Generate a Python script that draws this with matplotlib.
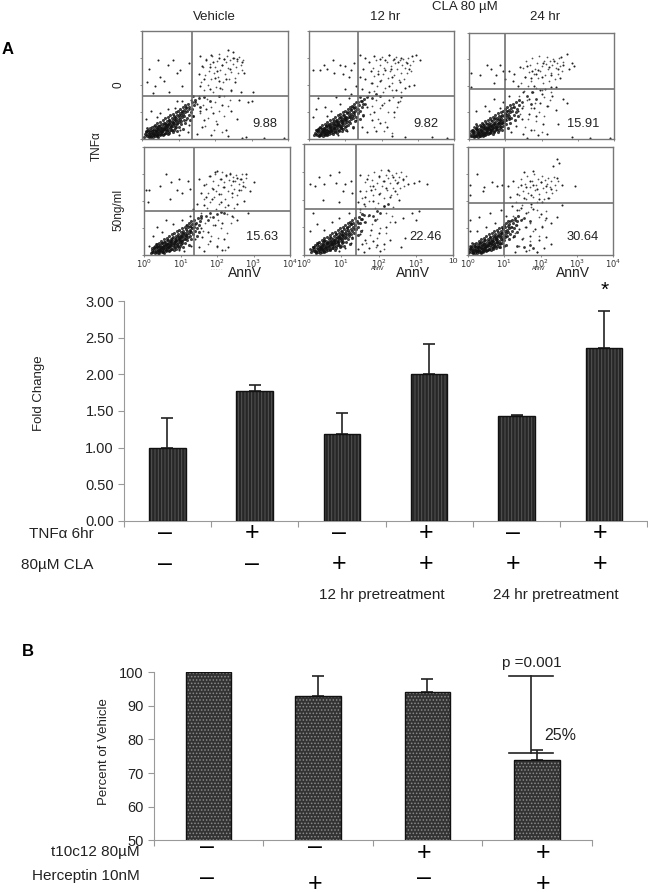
import matplotlib
matplotlib.use('Agg')
import matplotlib.pyplot as plt
import numpy as np

plt.rcParams['font.family'] = ['Liberation Sans', 'DejaVu Sans']
plt.rcParams['hatch.linewidth'] = 0.7

W, H = 648, 892

# flow panels, values in decades of the 10^0..10^4 axes
core_1 = [(.12,.15),(.2,.3),(.25,.12),(.3,.35),(.35,.22),(.4,.4),(.42,.15),(.48,.3),(.5,.5),(.55,.25),(.6,.42),(.62,.6),(.68,.35),(.7,.55),(.75,.7),(.8,.48),(.85,.62),(.9,.8),(.95,.55),(1.0,.9),(.15,.4),(.28,.22),(.38,.3),(.18,.22),(.33,.48),(.45,.38),(.52,.18),(.58,.33),(.1,.28),(.65,.5),(1.1,1.0),(1.2,1.2),(1.3,1.1),(1.45,1.35),(1.55,1.5),(1.7,1.55),(1.85,1.4),(1.6,1.2),(2.1,1.6),(1.4,1.6)]
spread_1 = [(.2,2.6),(.45,2.9),(.7,2.75),(.5,2.3),(.95,2.45),(.85,2.9),(1.05,2.55),(.15,2.1),(.35,1.95),(.6,2.15),(1.1,1.95),(1.28,2.8),(.3,1.7),(.75,1.75),(1.6,3.05),(1.75,2.9),(1.9,3.1),(2.1,3.0),(2.35,3.3),(2.5,3.0),(2.6,2.95),(2.75,2.85),(2.2,2.75),(1.85,2.65),(2.05,2.5),(2.4,2.6),(1.55,2.4),(1.7,2.2),(2.0,2.25),(2.3,2.2),(2.55,2.1),(2.8,2.45),(1.6,1.95),(1.85,1.85),(2.15,1.9),(2.45,1.8),(2.7,1.75),(3.05,1.75),(1.95,2.85),(2.25,2.95),(2.5,3.2),(1.65,2.7),(2.1,2.15),(1.5,1.3),(1.75,1.1),(1.95,.95),(2.2,1.25),(2.45,1.05),(2.65,1.45),(2.9,1.35),(3.0,1.4),(1.7,.7),(1.65,.45),(2.05,.55),(2.3,.35),(2.6,.75),(1.5,.2),(1.9,.15),(2.35,.1),(2.85,.08),(1.05,.35),(1.2,.7),(1.3,.5),(.9,1.15),(.7,1.1),(.5,.95),(.25,1.05),(.1,.75),(1.1,1.4),(.95,1.4),(.4,.8),(1.25,.25),(1.4,.85),(1.6,1.05),(1.35,1.45),(.6,.2),(1.0,.15),(2.75,.05),(3.35,.05),(3.9,.04)]

core_2 = [(.18,.2),(.25,.35),(.3,.15),(.35,.28),(.42,.42),(.45,.2),(.5,.33),(.55,.5),(.6,.3),(.65,.62),(.7,.42),(.75,.7),(.8,.52),(.85,.82),(.9,.6),(.95,.9),(1.0,.7),(1.05,.98),(1.1,.8),(1.15,1.1),(.22,.28),(.28,.42),(.38,.35),(.48,.48),(.58,.42),(.68,.55),(.78,.62),(.88,.72),(.98,.82),(1.2,1.2),(1.25,.95),(1.3,1.35),(1.35,1.1),(1.45,1.4),(1.55,1.3),(1.6,1.55),(1.75,1.5),(1.85,1.65),(1.95,1.6),(1.4,1.55)]
spread_2 = [(.1,2.55),(.3,2.55),(.5,2.6),(.7,2.45),(.85,2.75),(1.0,2.7),(1.15,2.55),(1.25,2.8),(.4,2.75),(.95,2.4),(1.1,2.3),(.65,2.9),(1.4,3.1),(1.55,3.0),(1.65,2.85),(1.8,3.05),(1.95,2.95),(2.1,2.9),(2.2,3.1),(2.35,2.95),(2.45,2.85),(2.55,3.0),(2.7,2.8),(2.85,3.05),(2.95,3.1),(2.75,2.6),(1.5,2.6),(1.7,2.5),(1.9,2.4),(2.1,2.55),(2.3,2.3),(2.5,2.1),(2.65,1.9),(1.55,2.2),(1.75,2.05),(1.95,2.15),(2.2,1.95),(2.4,1.8),(1.45,1.85),(1.65,1.75),(2.75,1.95),(2.9,2.0),(1.4,2.3),(2.25,2.6),(1.6,1.2),(1.8,1.0),(2.0,1.25),(2.2,1.45),(2.45,1.35),(2.35,1.0),(1.5,.85),(1.75,.7),(1.95,.6),(2.15,.45),(1.45,.45),(1.6,.25),(1.85,.3),(2.3,.12),(.2,1.1),(.45,1.2),(.25,1.5),(.6,1.05),(.85,1.3),(1.1,1.5),(.75,1.55),(.1,.8),(.5,.85),(1.2,.4),(1.05,.3),(1.3,.7),(.8,.15),(2.65,.08),(3.4,.06),(3.8,.05),(1.15,1.65),(1.3,1.95),(1.0,1.85),(.9,.4),(2.55,1.55),(3.05,2.9)]

core_3 = [(.05,.12),(.12,.25),(.18,.1),(.22,.38),(.28,.2),(.32,.5),(.35,.3),(.4,.15),(.42,.42),(.48,.6),(.5,.28),(.55,.48),(.6,.7),(.62,.35),(.68,.55),(.72,.78),(.78,.45),(.82,.65),(.88,.85),(.92,.6),(.08,.35),(.15,.45),(.25,.28),(.3,.12),(.38,.55),(.45,.22),(.52,.4),(.58,.25),(.65,.42),(.75,.35),(.85,.5),(.98,.72),(1.0,.95),(.1,.18),(.2,.55),(1.45,1.4),(1.6,1.6),(1.75,1.75),(1.85,1.5),(1.7,1.3)]
spread_3 = [(.5,2.8),(.6,2.65),(.85,2.8),(.95,2.55),(.75,2.4),(1.0,2.25),(.3,2.4),(.05,2.5),(.7,2.1),(.05,1.95),(1.1,2.55),(1.25,2.45),(1.4,2.7),(1.6,2.75),(1.75,2.55),(1.9,2.6),(2.05,2.85),(2.2,2.7),(2.35,2.95),(2.45,2.65),(2.55,3.1),(2.6,2.8),(2.7,3.2),(2.75,2.65),(2.85,2.85),(1.55,2.35),(1.7,2.3),(1.85,2.45),(2.0,2.35),(2.25,2.4),(1.2,2.2),(1.35,2.0),(1.8,2.0),(1.95,1.85),(2.1,1.9),(2.25,1.95),(2.4,1.95),(1.5,1.75),(1.65,1.5),(1.95,1.35),(2.15,1.25),(2.4,1.1),(2.6,1.5),(2.3,1.6),(1.2,1.2),(1.35,1.05),(1.45,.75),(1.65,.95),(1.85,.85),(2.05,.55),(1.3,.5),(1.5,.2),(1.7,.35),(1.9,.15),(2.15,.2),(2.45,.55),(1.15,.25),(1.1,.8),(.95,1.4),(.7,1.5),(.45,1.25),(.2,1.05),(.55,1.05),(.85,1.15),(1.05,1.05),(2.7,1.35),(1.6,.05),(2.85,.06),(3.35,.05),(3.9,.04),(2.0,1.7),(2.5,2.3),(1.45,1.15),(1.8,1.15),(1.1,1.6),(2.9,2.75)]

core_4 = [(.22,.12),(.28,.25),(.32,.4),(.38,.18),(.42,.32),(.48,.45),(.52,.22),(.58,.38),(.62,.55),(.68,.3),(.72,.48),(.78,.62),(.82,.4),(.88,.55),(.92,.72),(.98,.5),(1.02,.65),(1.08,.82),(1.12,.6),(1.18,.78),(.35,.28),(.45,.25),(.55,.3),(.65,.42),(.75,.5),(.85,.48),(.95,.62),(1.05,.55),(1.15,.7),(1.25,.9),(1.3,1.05),(1.4,1.15),(1.55,1.35),(1.7,1.45),(1.8,1.55),(1.9,1.42),(2.0,1.5),(2.1,1.6),(1.75,1.3),(2.2,1.55)]
spread_4 = [(.05,2.4),(.15,2.4),(.45,2.55),(.75,2.7),(.95,2.8),(1.25,2.45),(1.05,2.3),(.7,2.05),(.1,1.95),(.9,2.4),(1.2,2.75),(.6,3.0),(1.5,2.8),(1.65,2.6),(1.8,2.9),(1.95,3.05),(2.1,2.8),(2.25,2.95),(2.35,3.0),(2.45,2.75),(2.55,2.85),(2.65,2.8),(2.8,3.0),(2.0,3.1),(1.55,2.3),(1.7,2.15),(1.9,2.45),(2.05,2.25),(2.2,2.5),(2.4,2.3),(2.6,2.4),(1.45,1.9),(1.65,1.85),(1.85,2.05),(2.1,1.95),(2.3,1.85),(2.55,1.9),(2.75,2.0),(2.9,2.35),(2.7,2.55),(1.55,1.0),(1.75,.85),(1.95,1.1),(2.15,1.2),(2.4,1.45),(2.55,1.3),(1.6,.65),(1.8,.5),(2.0,.35),(2.2,.6),(1.5,.3),(1.65,.15),(2.15,.2),(2.3,.3),(.25,.7),(.5,.85),(.8,1.15),(1.05,1.3),(1.25,1.45),(.6,1.3),(.35,1.05),(.15,.35),(1.3,.35),(1.4,.6),(1.1,.15),(.95,.2),(1.35,1.7),(3.0,2.7),(2.85,1.55),(1.15,1.1)]

core_5 = [(.15,.2),(.25,.3),(.3,.15),(.38,.42),(.45,.25),(.5,.4),(.55,.55),(.6,.3),(.65,.48),(.7,.65),(.75,.38),(.8,.55),(.85,.75),(.9,.5),(.95,.68),(1.0,.88),(1.05,.6),(1.1,.8),(1.15,1.0),(1.2,.75),(.42,.3),(.52,.22),(.62,.42),(.72,.5),(.82,.42),(.92,.6),(1.02,.72),(1.25,1.1),(1.35,.95),(1.45,1.15),(1.55,1.3),(1.65,1.2),(1.75,1.45),(1.85,1.4),(1.95,1.6),(2.05,1.5),(2.15,1.75),(2.25,1.85),(1.6,1.45),(1.9,1.25)]
spread_5 = [(.15,2.55),(.3,2.5),(.55,2.55),(.7,2.9),(.85,2.6),(.95,3.0),(1.1,2.55),(1.25,2.65),(.4,2.8),(1.05,2.3),(.5,2.0),(.95,1.9),(1.3,2.25),(1.5,2.9),(1.7,2.75),(1.85,2.5),(2.0,2.85),(2.15,2.65),(2.25,3.05),(2.4,2.8),(2.5,2.6),(2.65,2.75),(2.8,2.55),(2.95,2.6),(3.1,2.65),(3.3,2.55),(1.5,2.3),(1.65,2.1),(1.8,2.35),(2.0,2.2),(2.2,2.4),(2.45,2.3),(1.45,1.9),(1.6,1.85),(1.85,1.95),(2.3,2.1),(2.55,2.0),(1.8,.9),(2.0,.8),(2.2,1.0),(2.45,1.2),(2.65,1.35),(2.9,1.5),(3.1,1.6),(1.5,.75),(1.55,.4),(1.65,.55),(1.75,.25),(1.85,.5),(1.95,.35),(2.05,.15),(2.15,.4),(1.6,.12),(1.45,.2),(2.3,.55),(2.6,.3),(.15,.85),(.35,1.1),(.55,.9),(.75,1.2),(.95,1.35),(.25,1.5),(1.2,1.5),(1.25,.45),(1.1,.25),(.95,.15),(3.0,1.25),(2.7,.6),(1.3,.65),(1.5,1.65)]

core_6 = [(.04,.1),(.1,.22),(.15,.08),(.2,.32),(.25,.15),(.3,.45),(.35,.25),(.4,.12),(.45,.55),(.5,.32),(.55,.18),(.6,.65),(.65,.4),(.7,.25),(.75,.72),(.8,.48),(.85,.3),(.9,.8),(.95,.55),(.98,.35),(.06,.35),(.12,.45),(.18,.18),(.28,.28),(.38,.38),(.48,.22),(.58,.45),(.68,.52),(.78,.62),(.88,.42),(.05,.22),(1.15,1.25),(1.3,1.3),(1.45,1.3),(1.55,1.35),(1.7,1.25),(1.35,.35),(1.55,.3),(1.7,.38),(1.8,.25)]
spread_6 = [(.25,3.0),(.45,2.5),(.05,2.6),(.65,2.7),(.8,2.55),(.95,2.6),(.05,2.2),(.4,2.35),(1.1,2.55),(1.25,2.75),(1.45,2.6),(1.6,2.5),(1.7,2.75),(1.8,2.6),(1.9,2.45),(2.0,2.7),(2.15,2.55),(2.3,2.45),(2.45,2.85),(2.6,2.6),(1.55,3.05),(1.8,3.1),(2.35,3.3),(2.45,3.55),(2.5,3.4),(1.15,2.15),(1.35,2.25),(1.55,2.1),(1.75,2.2),(1.95,2.05),(2.2,2.1),(2.05,1.95),(1.2,1.8),(1.35,1.65),(1.6,1.55),(1.8,1.7),(1.75,1.9),(2.0,1.5),(2.15,1.35),(2.3,1.2),(2.45,1.4),(1.2,1.05),(1.4,.95),(1.6,1.05),(1.85,.95),(2.05,1.05),(1.25,.65),(1.5,.6),(1.7,.7),(1.95,.55),(2.15,.65),(2.3,.4),(1.3,.12),(1.6,.15),(1.9,.12),(2.1,.25),(.25,.9),(.5,1.05),(.75,1.2),(.95,1.0),(.3,1.4),(.6,1.55),(.9,1.65),(.05,1.3),(.05,.9),(1.05,.7),(1.05,1.45),(2.95,2.55),(2.6,1.85),(1.45,1.75)]

# the dark wedge at the lower left, about the same in every panel
wedge = [(.06,.08),(.09,.17),(.11,.27),(.14,.11),(.16,.2),(.17,.33),(.19,.06),(.21,.14),(.22,.25),(.23,.4),(.25,.09),(.26,.18),(.27,.31),(.28,.46),(.3,.07),(.31,.23),(.32,.13),(.33,.37),(.34,.28),(.35,.52),(.36,.1),(.37,.2),(.38,.44),(.39,.33),(.4,.16),(.41,.26),(.42,.58),(.43,.08),(.44,.38),(.45,.22),(.46,.49),(.47,.3),(.48,.13),(.49,.42),(.5,.64),(.51,.25),(.52,.34),(.53,.17),(.54,.54),(.55,.45),(.56,.28),(.57,.7),(.58,.38),(.59,.2),(.6,.5),(.61,.6),(.62,.32),(.63,.43),(.64,.76),(.65,.24),(.66,.56),(.67,.36),(.68,.66),(.69,.47),(.7,.17),(.71,.82),(.72,.4),(.73,.58),(.74,.29),(.75,.72),(.76,.5),(.77,.63),(.78,.88),(.79,.35),(.8,.44),(.81,.78),(.82,.55),(.83,.68),(.84,.26),(.85,.94),(.86,.48),(.87,.6),(.88,.73),(.89,.84),(.9,.4),(.91,.53),(.92,1.0),(.93,.66),(.94,.78),(.95,.3),(.96,.9),(.97,.58),(.98,.71),(.99,1.05),(1.0,.46),(1.01,.83),(1.02,.62),(1.03,.96),(1.04,.75),(1.05,1.12),(1.06,.54),(1.07,.88),(1.08,.68),(1.09,1.02),(1.1,.8),(1.11,1.18),(1.12,.38),(1.13,.93),(1.14,.72),(1.15,1.08),(1.16,.85),(1.17,1.25),(1.18,.6),(1.19,.98),(1.2,1.14),(1.22,.78),(1.24,1.05),(1.26,1.3),(1.28,.9),(1.3,1.2),(1.32,.7),(1.34,1.0),(1.36,1.36),(1.38,1.12),(1.4,.85),(1.42,1.26),(1.44,1.44),(.15,.28),(.2,.1),(.24,.34),(.29,.16),(.33,.2),(.37,.3),(.41,.12),(.43,.47),(.47,.2),(.51,.4),(.54,.3),(.57,.15),(.6,.36),(.63,.22),(.66,.46),(.69,.3),(.72,.52),(.75,.24),(.78,.42),(.81,.34),(.84,.6),(.87,.32),(.9,.7),(.93,.44)]
wedge_dx = [0.0, 0.08, -0.05, 0.12, 0.12, -0.06]
wedge_dy = [0.0, 0.05, 0.02, 0.0, 0.02, 0.0]

# upper right cloud, shifted per panel
cloud = [(1.62,2.05),(1.68,2.62),(1.72,2.3),(1.76,2.9),(1.8,1.95),(1.83,2.48),(1.87,2.72),(1.9,2.15),(1.93,3.0),(1.96,2.38),(2.0,2.6),(2.03,1.88),(2.06,2.82),(2.09,2.25),(2.12,3.08),(2.15,2.5),(2.18,2.68),(2.21,2.05),(2.24,2.9),(2.27,2.35),(2.3,2.78),(2.33,3.02),(2.36,2.58),(2.39,2.15),(2.42,2.88),(2.45,2.42),(2.48,2.72),(2.51,2.95),(2.54,2.2),(2.57,2.62),(2.6,2.82),(2.63,2.4),(2.66,2.98),(2.7,2.7),(2.74,2.5),(2.78,2.85),(1.7,1.75),(1.95,1.7),(2.2,1.78),(2.45,1.72),(1.55,1.55),(1.78,1.42),(2.0,1.3),(2.25,1.52),(2.42,1.4),(1.66,1.2),(1.88,1.12),(2.1,.98),(2.35,1.18),(1.6,.9),(1.82,.72),(2.02,.62),(2.26,.8),(1.72,.42),(1.98,.28),(2.2,.2)]
cloud_dx = [0.0, 0.08, -0.18, 0.02, -0.05, -0.3]
cloud_dy = [0.05, 0.02, 0.05, 0.0, 0.0, -0.1]

flow_core = [core_1, core_2, core_3, core_4, core_5, core_6]
flow_spread = [spread_1, spread_2, spread_3, spread_4, spread_5, spread_6]
gate_x = [1.38, 1.36, 1.0, 1.36, 1.39, 1.0]
gate_y = [1.6, 1.6, 1.89, 1.64, 1.65, 1.92]
flow_pct = ['9.88', '9.82', '15.91', '15.63', '22.46', '30.64']

# fold change bars
a_vals = [1.00, 1.77, 1.19, 2.00, 1.43, 2.36]
a_err = [0.41, 0.08, 0.28, 0.41, 0.01, 0.51]
a_ticks = [0, 0.5, 1.0, 1.5, 2.0, 2.5, 3.0]
a_tnf = ['-', '+', '-', '+', '-', '+']
a_cla = ['-', '-', '+', '+', '+', '+']

# percent of vehicle bars
b_vals = [100, 93, 94, 74]
b_err = [0.2, 6, 4, 3]
b_ticks = [50, 60, 70, 80, 90, 100]
b_t10 = ['-', '-', '+', '+']
b_her = ['-', '+', '-', '+']

fig = plt.figure(figsize=(W / 100, H / 100), dpi=100)


def add_ax(x0, y0, x1, y1):
    # pixel box, y measured from the top
    return fig.add_axes([x0 / W, 1 - y1 / H, (x1 - x0) / W, (y1 - y0) / H])


def txt(x, y, s, size=9, ha='center', rot=0, color='#222222', weight='normal'):
    fig.text(x / W, 1 - y / H, s, fontsize=size, ha=ha, va='center', rotation=rot,
             color=color, fontweight=weight)


def sign(x, y, s):
    # long dash for minus, thick cross for plus
    txt(x, y, '\u2013' if s == '-' else '+', size=18, color='black')


boxes = [(142, 30.7, 288, 139), (309, 30.7, 454, 139), (469, 32.7, 614, 139),
         (144, 146.7, 290, 255), (304, 144, 453, 255), (468, 146.7, 613, 255)]
pct_pos = [(265, 124), (426, 124), (583, 124), (262, 237), (425, 237), (583, 237)]

for i, box in enumerate(boxes):
    ax = add_ax(*box)
    cx, cy = zip(*flow_core[i])
    sx, sy = zip(*flow_spread[i])
    wx, wy = np.array(wedge).T
    ux, uy = np.array(cloud).T
    ax.scatter(ux + cloud_dx[i], uy + cloud_dy[i], s=1.6, c='#555555', linewidths=0)
    ax.scatter(sx, sy, s=2.2, c='#222222', linewidths=0)
    ax.scatter(wx + wedge_dx[i], wy + wedge_dy[i], s=5, c='#111111', alpha=0.8, linewidths=0)
    ax.scatter(cx, cy, s=4, c='#111111', alpha=0.85, linewidths=0)
    ax.axvline(gate_x[i], color='#666666', lw=1.1)
    ax.axhline(gate_y[i], color='#666666', lw=1.1)
    ax.set_xlim(0, 4)
    ax.set_ylim(0, 4)
    for s in ax.spines.values():
        s.set_color('#777777')
        s.set_linewidth(1.0)
    ax.set_yticks([0, 1, 2, 3, 4])
    ax.set_yticklabels([])
    ax.tick_params(axis='y', length=1.5, width=0.6, color='#777777')
    ax.set_xticks([0, 1, 2, 3, 4])
    if i >= 3:
        last = '10' if i == 4 else '$10^{4}$'
        ax.set_xticklabels(['$10^{0}$', '$10^{1}$', '$10^{2}$', '$10^{3}$', last],
                           fontsize=6, color='#333333')
    else:
        ax.set_xticklabels([])
    ax.tick_params(axis='x', length=1.5, width=0.6, color='#777777', pad=0.5)
    txt(pct_pos[i][0], pct_pos[i][1], flow_pct[i], size=9.3)

txt(465, 7, 'CLA 80 \u00b5M', size=9.5)
txt(214, 17, 'Vehicle', size=9.5)
txt(385, 17, '12 hr', size=9.5)
txt(545, 17, '24 hr', size=9.5)
txt(118, 85, '0', size=8.5, rot=90)
txt(97, 146, 'TNF\u03b1', size=8.5, rot=90)
txt(118, 210, '50ng/ml', size=8.5, rot=90)
for x in [245, 413, 573]:
    txt(x, 273, 'AnnV', size=10)
for x in [378, 539]:
    txt(x, 268.5, 'AnnV', size=4)
txt(217, 268.5, '- - - - -', size=3, color='#777777')
txt(8, 50, 'A', size=12, weight='bold', color='black')
txt(28, 652, 'B', size=12, weight='bold', color='black')


def bars(ax, vals, errs, ticks, bar_w, face, hatch, hatch_col, fmt, cap):
    pos = np.arange(len(vals))
    ax.errorbar(pos, vals, yerr=[[0] * len(vals), errs], fmt='none', ecolor='#222222',
                elinewidth=1.2, capsize=cap, capthick=1.2, zorder=2)
    ax.bar(pos, vals, bar_w, color=face, edgecolor=hatch_col, hatch=hatch, lw=0, zorder=3)
    ax.bar(pos, vals, bar_w, fill=False, edgecolor='#111111', lw=1.0, zorder=4)
    ax.set_xlim(-0.5, len(vals) - 0.5)
    ax.set_xticks(np.arange(len(vals) + 1) - 0.5)
    ax.set_xticklabels([])
    ax.set_yticks(ticks)
    ax.set_yticklabels([fmt % t for t in ticks], fontsize=10.5, color='#222222')
    ax.spines['top'].set_visible(False)
    ax.spines['right'].set_visible(False)
    ax.spines['left'].set_color('#999999')
    ax.spines['bottom'].set_color('#999999')
    ax.tick_params(length=4, width=0.8, color='#999999', pad=3)


ax_a = add_ax(123.7, 301.3, 647.5, 520.7)
ax_a.set_ylim(0, 3)
bars(ax_a, a_vals, a_err, a_ticks, 0.417, '#262626', '|||||', '#555555', '%.2f', 4.5)
txt(39, 393, 'Fold Change', size=9.5, rot=90)
txt(605, 290, '*', size=15, color='black')
txt(29, 534, 'TNF\u03b1 6hr', size=11, ha='left')
txt(21, 565, '80\u00b5M CLA', size=11, ha='left')
for i in range(6):
    sign(165 + 87 * i, 533, a_tnf[i])
    sign(165 + 87 * i, 564, a_cla[i])
txt(382, 595, '12 hr pretreatment', size=11)
txt(556, 595, '24 hr pretreatment', size=11)

ax_b = add_ax(153.5, 672.3, 591.6, 840.3)
ax_b.set_ylim(50, 100)
bars(ax_b, b_vals, b_err, b_ticks, 0.415, '#333333', '.....', '#8a8a8a', '%d', 4.5)
ax_b.plot([2.75, 3.15], [99, 99], color='#222222', lw=1.2, zorder=5, clip_on=False)
ax_b.plot([2.75, 3.15], [76, 76], color='#222222', lw=1.2, zorder=5)
ax_b.plot([2.95, 2.95], [76, 99], color='#222222', lw=1.2, zorder=5)
txt(532, 663, 'p =0.001', size=11)
txt(560, 735, '25%', size=11.5)
txt(104, 752, 'Percent of Vehicle', size=9.5, rot=90)
txt(140, 852, 't10c12 80\u00b5M', size=11, ha='right')
txt(140, 876, 'Herceptin 10nM', size=11, ha='right')
sign_x = [207, 315, 424, 543]
for i in range(4):
    sign(sign_x[i], 853 if b_t10[i] == '+' else 847, b_t10[i])
    sign(sign_x[i], 884 if b_her[i] == '+' else 878, b_her[i])

fig.savefig('out.png', dpi=100)
